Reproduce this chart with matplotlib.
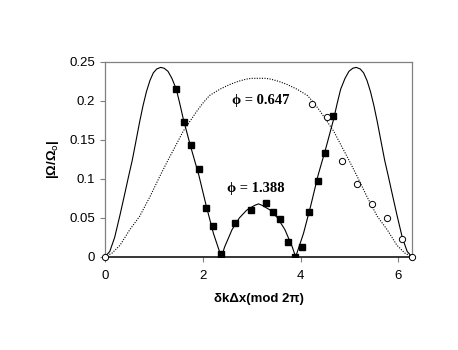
import matplotlib
matplotlib.use("Agg")
import matplotlib.pyplot as plt

# theory curve, phi = 1.388 (solid)
solid_x = [0.00, 0.10, 0.20, 0.31, 0.41, 0.48, 0.56, 0.64, 0.71, 0.78, 0.85, 0.92, 0.99,
           1.06, 1.14, 1.21, 1.29, 1.37, 1.46, 1.53, 1.61, 1.76, 1.92, 2.07, 2.22, 2.38,
           2.45, 2.60, 2.75, 2.90, 3.06, 3.14, 3.22, 3.38, 3.53, 3.68, 3.83, 3.90,
           4.06, 4.21, 4.36, 4.52, 4.67, 4.75, 4.82, 4.91, 4.99, 5.07, 5.14, 5.22, 5.29,
           5.36, 5.43, 5.50, 5.57, 5.64, 5.72, 5.80, 5.87, 5.97, 6.08, 6.18, 6.28]
solid_y = [0.000, 0.007, 0.025, 0.054, 0.082, 0.102, 0.124, 0.150, 0.173, 0.194, 0.212, 0.226, 0.236,
           0.241, 0.243, 0.242, 0.238, 0.229, 0.215, 0.197, 0.175, 0.140, 0.105, 0.066, 0.030, 0.000,
           0.013, 0.035, 0.050, 0.060, 0.066, 0.068, 0.066, 0.060, 0.050, 0.035, 0.013, 0.000,
           0.030, 0.066, 0.105, 0.140, 0.175, 0.197, 0.215, 0.229, 0.238, 0.242, 0.243, 0.241, 0.236,
           0.226, 0.212, 0.194, 0.173, 0.150, 0.124, 0.102, 0.082, 0.054, 0.025, 0.007, 0.000]

# theory curve, phi = 0.647 (dotted)
dot_x = [0.00, 0.15, 0.31, 0.51, 0.71, 0.92, 1.12, 1.29, 1.45, 1.60, 1.87, 2.00, 2.14, 2.35,
         2.55, 2.72, 2.89, 3.00, 3.14, 3.28, 3.39, 3.56, 3.73, 3.93, 4.14, 4.28, 4.41, 4.68,
         4.83, 4.99, 5.16, 5.36, 5.57, 5.77, 5.97, 6.13, 6.28]
dot_y = [0.000, 0.005, 0.015, 0.035, 0.052, 0.077, 0.103, 0.124, 0.143, 0.161, 0.186, 0.197, 0.207, 0.215,
         0.221, 0.225, 0.228, 0.229, 0.229, 0.229, 0.228, 0.225, 0.221, 0.215, 0.207, 0.197, 0.186, 0.161,
         0.143, 0.124, 0.103, 0.077, 0.052, 0.035, 0.015, 0.005, 0.000]

# measured points, phi = 1.388 (filled squares)
sq_x = [1.46, 1.61, 1.76, 1.92, 2.07, 2.22, 2.37, 2.67, 2.98, 3.29, 3.43, 3.58, 3.74,
        3.89, 4.03, 4.17, 4.35, 4.50, 4.66]
sq_y = [0.215, 0.173, 0.144, 0.113, 0.063, 0.039, 0.004, 0.043, 0.060, 0.069, 0.058, 0.049, 0.019,
        0.000, 0.013, 0.058, 0.097, 0.133, 0.181]

# measured points, phi = 0.647 (open circles)
ci_x = [0.00, 4.24, 4.55, 4.84, 5.15, 5.46, 5.76, 6.07, 6.28]
ci_y = [0.000, 0.196, 0.180, 0.123, 0.094, 0.068, 0.050, 0.023, 0.000]

yticks = [0, 0.05, 0.1, 0.15, 0.2, 0.25]
ytick_labels = ["0", "0.05", "0.1", "0.15", "0.2", "0.25"]
xticks = [0, 2, 4, 6]

plt.rcParams["font.family"] = ["Liberation Sans", "DejaVu Sans"]

fig = plt.figure(figsize=(4.58, 3.5), dpi=100)
ax = fig.add_axes([0.229, 0.266, 0.671, 0.557])

ax.plot(solid_x, solid_y, color="black", lw=0.8, zorder=2)
ax.plot(dot_x, dot_y, color="black", lw=0.8, ls=(0, (1, 1.3)), zorder=2)
ax.plot(sq_x, sq_y, ls="none", marker="s", ms=5, color="black", zorder=3)
ax.plot(ci_x, ci_y, ls="none", marker="o", ms=4.5, mfc="white", mec="black",
        mew=0.7, zorder=4, clip_on=False)

ax.set_xlim(0, 6.283)
ax.set_ylim(0, 0.25)
ax.set_xticks(xticks)
ax.set_xticklabels([str(t) for t in xticks])
ax.set_yticks(yticks)
ax.set_yticklabels(ytick_labels)

for s in ["left", "top", "right"]:
    ax.spines[s].set_color("#808080")
    ax.spines[s].set_linewidth(0.9)
ax.spines["bottom"].set_color("black")
ax.spines["bottom"].set_linewidth(1.1)
ax.tick_params(axis="both", direction="out", length=3.5, width=0.8,
               color="#808080", labelsize=9.5, pad=3.5)
ax.tick_params(axis="x", pad=6)

ax.set_xlabel("δkΔx(mod 2π)", fontsize=9.5, fontweight="bold", labelpad=8)
ax.set_ylabel("|Ω/Ω$_{\\rm o}$|", fontsize=9.5, fontweight="bold", labelpad=6)

ax.text(2.59, 0.201, "ϕ = 0.647", family=["Liberation Serif", "DejaVu Serif"],
        fontsize=10.5, fontweight="bold", va="center", ha="left")
ax.text(2.50, 0.088, "ϕ = 1.388", family=["Liberation Serif", "DejaVu Serif"],
        fontsize=10.5, fontweight="bold", va="center", ha="left")

fig.savefig("out.png", dpi=100)
